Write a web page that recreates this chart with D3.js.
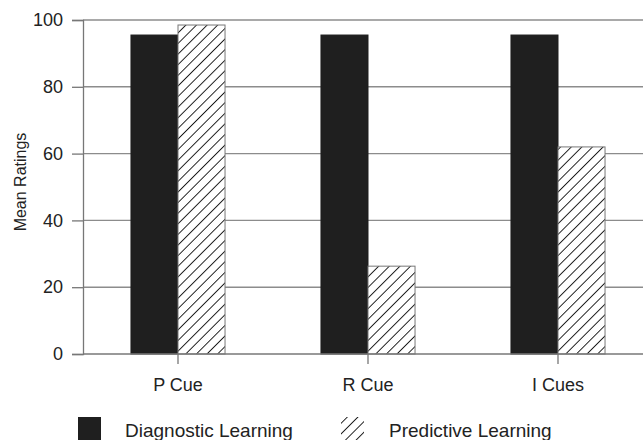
<!DOCTYPE html>
<html>
<head>
<meta charset="utf-8">
<script src="https://cdn.jsdelivr.net/npm/d3@7"></script>
<style>
html,body{margin:0;padding:0;background:#fff;}
svg{display:block;font-family:"Liberation Sans",Arial,sans-serif;}
</style>
</head>
<body>
<svg id="chart" width="643" height="440"></svg>
<script>
const categories = ["P Cue", "R Cue", "I Cues"];
const seriesNames = ["Diagnostic Learning", "Predictive Learning"];
const diagnostic = [95.5, 95.5, 95.5];
const predictive = [98.5, 26.3, 62];
const yTicks = [0, 20, 40, 60, 80, 100];

const svg = d3.select("#chart");
const defs = svg.append("defs");
const pat = defs.append("pattern").attr("id","hatch").attr("patternUnits","userSpaceOnUse")
  .attr("width",7.5).attr("height",7.5).attr("patternTransform","rotate(45)");
pat.append("rect").attr("width",7.5).attr("height",7.5).attr("fill","#fff");
pat.append("line").attr("x1",0).attr("y1",0).attr("x2",0).attr("y2",7.5)
  .attr("stroke","#1a1a1a").attr("stroke-width",1.9);

const mLeft = 83, mRight = 653, mTop = 20, mBottom = 354;
const x = d3.scaleBand().domain(categories).range([mLeft, mRight]).padding(0);
const x1 = d3.scaleBand().domain(seriesNames).range([0, x.bandwidth()]).paddingOuter(1.02).paddingInner(0);
const y = d3.scaleLinear().domain([0, 100]).range([mBottom, mTop]);

// gridlines
svg.append("g").selectAll("line").data(yTicks.filter(d => d > 0)).join("line")
  .attr("x1", mLeft).attr("x2", 643).attr("y1", d => y(d)).attr("y2", d => y(d))
  .attr("stroke", "#8c8c8c").attr("stroke-width", 1.4);

// y axis
const yAxis = svg.append("g").attr("transform", `translate(${mLeft},0)`)
  .call(d3.axisLeft(y).tickValues(yTicks).tickSize(11).tickPadding(9));
yAxis.select(".domain").attr("stroke", "#777").attr("stroke-width", 1.3);
yAxis.selectAll(".tick line").attr("stroke", "#777").attr("stroke-width", 1.3);
yAxis.selectAll(".tick text").attr("font-size", 18).attr("fill", "#222")
  .attr("font-family", "Liberation Sans, Arial, sans-serif");

// bars
const rows = categories.map((c, i) => ({cat: c, vals: [diagnostic[i], predictive[i]]}));
const g = svg.append("g").selectAll("g").data(rows).join("g")
  .attr("transform", d => `translate(${x(d.cat)},0)`);
g.selectAll("rect").data(d => d.vals.map((v, j) => ({s: seriesNames[j], v}))).join("rect")
  .attr("x", d => x1(d.s)).attr("width", x1.bandwidth())
  .attr("y", d => y(d.v)).attr("height", d => y(0) - y(d.v))
  .attr("fill", d => d.s === seriesNames[0] ? "#1f1f1f" : "url(#hatch)")
  .attr("stroke", d => d.s === seriesNames[0] ? "#1f1f1f" : "#777")
  .attr("stroke-width", 1);

// x axis
const xAxis = svg.append("g").attr("transform", `translate(0,${mBottom})`)
  .call(d3.axisBottom(x).tickSize(10).tickPadding(14));
xAxis.select(".domain").attr("stroke", "#777").attr("stroke-width", 1.3).attr("d", `M${mLeft},0H643`);
xAxis.selectAll(".tick line").attr("stroke", "#777").attr("stroke-width", 1.3);
xAxis.selectAll(".tick text").attr("font-size", 18).attr("fill", "#222")
  .attr("font-family", "Liberation Sans, Arial, sans-serif");

// y title
svg.append("text").attr("transform", `translate(26,${(mTop+mBottom)/2 - 5}) rotate(-90)`)
  .attr("text-anchor", "middle").attr("font-size", 16).attr("fill", "#222").text("Mean Ratings");

// legend
const legend = [
  {name: seriesNames[0], fill: "#1f1f1f", bx: 78, tx: 125},
  {name: seriesNames[1], fill: "url(#hatch)", bx: 341, tx: 389}
];
const lg = svg.append("g").selectAll("g").data(legend).join("g");
lg.append("rect").attr("x", d => d.bx).attr("y", 417).attr("width", 23).attr("height", 23)
  .attr("fill", d => d.fill);
lg.append("text").attr("x", d => d.tx).attr("y", 437).attr("font-size", 19).attr("fill", "#222")
  .text(d => d.name);
</script>
</body>
</html>
